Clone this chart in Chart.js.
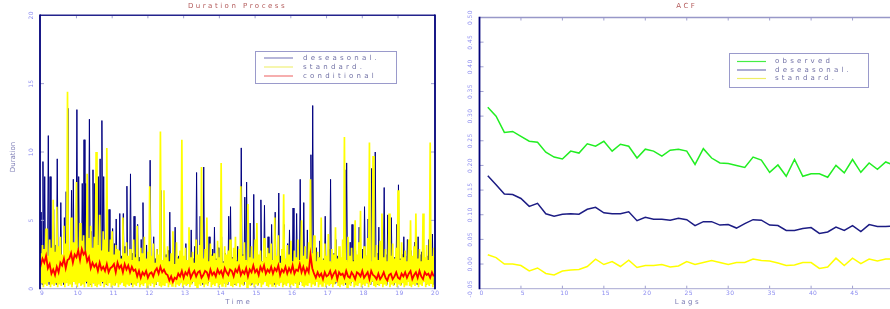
<!DOCTYPE html>
<html><head><meta charset="utf-8">
<script src="https://cdn.jsdelivr.net/npm/chart.js@4/dist/chart.umd.min.js"></script>
<style>
html,body{margin:0;padding:0;background:#fff;overflow:hidden;width:890px;height:309px;position:relative;}
#left{position:absolute;left:0;top:0;width:445px;height:309px;}
#right{position:absolute;left:440px;top:0;width:470px;height:309px;}
canvas{display:block;}
</style></head><body>
<div id="left"><canvas id="c1" width="445" height="309"></canvas></div>
<div id="right"><canvas id="c2" width="470" height="309"></canvas></div>
<script>
// ---------- Duration Process (left) ----------
const standardTimeStart = 8.95;      // time of first standard sample
const deseasonalTimeStart = 8.9625;  // time of first deseasonal sample
const fineStep = 0.025;              // sampling step of standard / deseasonal
const conditionalTimeStart = 8.95;
const conditionalStep = 0.05;
const timeTicks = [9, 10, 11, 12, 13, 14, 15, 16, 17, 18, 19, 20];
const timeTickLabels = ['9', '10', '11', '12', '13', '14', '15', '16', '17', '18', '19', '20'];
const durationTicks = [0, 5, 10, 15, 20];
const durationTickLabels = ['0', '5', '10', '15', '20'];

const durationDeseasonal = [
  2.4,0.5, 5.6,0.3, 9.3,0.8, 8.2,0.4, 3.0,0.6, 11.2,0.3, 8.2,0.7, 2.6,0.4, 5.8,0.5, 3.2,0.3,
  9.5,0.6, 3.0,0.4, 6.3,0.8, 2.4,0.3, 5.2,0.5, 7.1,0.7, 13.2,0.4, 2.5,0.6, 7.2,0.3, 8.0,0.5,
  2.8,0.7, 13.1,0.4, 8.2,0.6, 2.6,0.3, 7.7,0.5, 10.9,0.8, 7.7,0.4, 3.1,0.6, 12.4,0.3, 4.2,0.5,
  8.7,0.4, 7.7,0.7, 2.2,0.3, 8.2,0.5, 9.5,0.6, 12.3,0.4, 8.2,0.8, 3.0,0.3, 5.2,0.5, 5.8,0.6,
  2.9,0.4, 4.4,0.6, 3.3,0.3, 5.1,0.5, 2.7,0.7, 5.5,0.4, 2.4,0.6, 5.5,0.3, 3.1,0.5, 7.5,0.4,
  2.2,0.6, 8.4,0.3, 2.6,0.5, 5.3,0.7, 2.5,0.4, 4.7,0.6, 2.3,0.3, 3.6,0.5, 6.3,0.4, 2.1,0.6,
  3.2,0.3, 2.4,0.5, 9.4,0.7, 2.0,0.4, 3.8,0.6, 2.2,0.3, 2.9,0.5, 1.7,0.4, 7.2,0.6, 2.0,0.3,
  3.4,0.5, 2.5,0.7, 2.8,0.4, 5.6,0.6, 2.1,0.3, 3.0,0.5, 4.5,0.4, 2.3,0.6, 2.4,0.3, 1.6,0.5,
  2.8,0.4, 2.0,0.6, 3.3,0.3, 1.8,0.5, 2.5,0.7, 4.3,0.4, 2.2,0.6, 3.1,0.3, 8.5,0.5, 2.4,0.4,
  5.3,0.6, 1.9,0.3, 8.9,0.5, 2.1,0.7, 2.7,0.4, 3.8,0.6, 2.5,0.3, 2.9,0.5, 4.5,0.4, 2.2,0.6,
  3.0,0.3, 1.6,0.5, 3.8,0.7, 2.0,0.4, 2.6,0.6, 1.7,0.3, 5.3,0.5, 6.0,0.4, 2.3,0.6, 2.8,0.3,
  2.1,0.5, 3.1,0.7, 2.4,0.4, 10.3,0.6, 2.5,0.3, 6.7,0.5, 7.8,0.4, 2.2,0.6, 4.8,0.3, 2.1,0.5,
  6.9,0.4, 2.4,0.6, 3.2,0.3, 1.8,0.5, 6.5,0.7, 2.0,0.4, 6.1,0.6, 2.3,0.3, 3.8,0.5, 2.3,0.4,
  4.7,0.6, 1.6,0.3, 5.6,0.5, 2.1,0.7, 7.0,0.4, 2.4,0.6, 2.5,0.3, 4.7,0.5, 2.0,0.4, 3.3,0.6,
  4.3,0.3, 2.2,0.5, 5.9,0.7, 1.6,0.4, 5.5,0.6, 2.1,0.3, 8.0,0.5, 2.2,0.4, 6.3,0.6, 2.4,0.3,
  4.3,0.5, 2.0,0.7, 9.8,0.4, 13.4,0.6, 1.8,0.3, 3.0,0.5, 2.3,0.4, 3.5,0.6, 2.1,0.3, 2.2,0.5,
  5.3,0.4, 1.7,0.6, 2.9,0.3, 8.0,0.5, 2.1,0.7, 2.6,0.4, 3.6,0.6, 2.4,0.3, 3.0,0.5, 2.2,0.4,
  2.7,0.6, 8.7,0.3, 9.2,0.5, 2.3,0.7, 3.4,0.4, 4.7,0.6, 2.1,0.3, 2.8,0.5, 1.6,0.4, 4.5,0.6,
  2.0,0.3, 2.9,0.5, 6.0,0.7, 2.4,0.4, 5.1,0.6, 2.2,0.3, 8.8,0.5, 2.2,0.4, 10.0,0.6, 2.6,0.3,
  4.5,0.5, 2.1,0.7, 3.2,0.4, 7.4,0.6, 2.5,0.3, 5.4,0.5, 2.0,0.4, 5.2,0.6, 2.0,0.3, 2.3,0.5,
  4.7,0.4, 7.6,0.6, 2.2,0.3, 2.5,0.5, 3.8,0.7, 2.4,0.4, 3.6,0.6, 2.1,0.3, 2.8,0.5, 1.6,0.4,
  3.4,0.6, 2.0,0.3, 3.8,0.5, 2.5,0.7, 2.7,0.4, 3.1,0.6, 2.2,0.3, 2.4,0.5, 3.6,0.4, 2.1,0.6,
  4.0,0.3, 2.3
];

const durationStandard = [
  10.8,0.2, 2.6,0.4, 3.2,0.1, 2.9,0.3, 4.4,0.2, 2.4,0.5, 3.6,0.1, 3.0,0.3, 6.5,0.2, 2.7,0.4,
  6.0,0.1, 3.1,0.3, 3.8,0.2, 2.5,0.5, 4.6,0.1, 3.3,0.4, 14.4,0.2, 2.8,0.3, 5.2,0.1, 3.4,0.5,
  3.4,0.3, 7.8,0.1, 2.9,0.4, 4.8,0.2, 3.5,0.3, 3.9,0.1, 2.6,0.5, 8.4,0.2, 3.7,0.3, 4.6,0.1,
  3.0,0.4, 3.8,0.2, 10.0,0.1, 3.2,0.3, 5.4,0.2, 2.8,0.5, 4.2,0.1, 3.6,0.3, 10.3,0.2, 2.7,0.4,
  3.6,0.1, 4.2,0.3, 2.5,0.2, 3.2,0.4, 2.9,0.1, 2.8,0.3, 2.2,0.5, 5.2,0.2, 2.6,0.1, 3.4,0.3,
  2.4,0.2, 2.9,0.4, 2.1,0.1, 3.6,0.3, 2.3,0.2, 4.6,0.5, 2.0,0.1, 3.0,0.3, 2.6,0.2, 3.8,0.4,
  2.2,0.1, 2.7,0.3, 7.5,0.2, 2.4,0.4, 3.3,0.1, 1.9,0.3, 2.9,0.5, 2.5,0.2, 11.5,0.1, 2.1,0.3,
  7.2,0.2, 2.3,0.4, 3.1,0.1, 2.0,0.3, 2.6,0.2, 4.2,0.5, 1.8,0.1, 3.4,0.3, 2.2,0.2, 2.8,0.4,
  10.9,0.1, 2.4,0.3, 3.0,0.2, 2.1,0.4, 4.5,0.1, 2.3,0.3, 2.7,0.5, 1.9,0.2, 3.6,0.1, 2.5,0.3,
  3.2,0.2, 8.9,0.4, 2.2,0.1, 2.9,0.3, 5.2,0.2, 2.0,0.5, 3.3,0.1, 2.4,0.3, 2.6,0.2, 2.1,0.4,
  3.5,0.1, 2.3,0.3, 9.2,0.2, 1.9,0.4, 3.1,0.1, 2.5,0.3, 2.8,0.5, 3.6,0.2, 2.2,0.1, 3.0,0.3,
  3.8,0.2, 2.0,0.4, 2.9,0.1, 7.5,0.3, 2.4,0.2, 3.4,0.5, 2.1,0.1, 6.2,0.3, 2.3,0.2, 3.1,0.4,
  2.2,0.1, 3.6,0.3, 4.8,0.2, 2.5,0.4, 2.8,0.1, 2.0,0.3, 3.7,0.5, 2.3,0.2, 3.0,0.1, 2.6,0.3,
  3.3,0.2, 2.1,0.4, 5.2,0.1, 2.4,0.3, 3.9,0.2, 1.9,0.5, 2.9,0.1, 6.9,0.3, 2.2,0.2, 3.2,0.4,
  2.5,0.1, 3.5,0.3, 2.0,0.2, 2.8,0.4, 2.3,0.1, 3.6,0.3, 2.1,0.5, 5.0,0.2, 2.4,0.1, 3.1,0.3,
  2.2,0.2, 3.4,0.4, 8.0,0.1, 2.6,0.3, 3.9,0.2, 2.0,0.5, 2.7,0.1, 2.3,0.3, 5.2,0.2, 2.1,0.4,
  3.3,0.1, 2.4,0.3, 4.0,0.2, 2.0,0.4, 2.9,0.1, 2.5,0.3, 4.5,0.5, 2.2,0.2, 3.1,0.1, 2.3,0.3,
  3.6,0.2, 11.1,0.4, 2.1,0.1, 3.8,0.3, 2.4,0.2, 3.0,0.5, 2.0,0.1, 5.0,0.3, 2.5,0.2, 3.4,0.4,
  5.7,0.1, 2.2,0.3, 3.1,0.2, 2.4,0.4, 3.7,0.1, 10.7,0.3, 2.0,0.5, 9.7,0.2, 2.3,0.1, 3.2,0.3,
  2.1,0.2, 3.5,0.4, 5.5,0.1, 2.3,0.3, 2.9,0.2, 2.0,0.5, 5.5,0.1, 2.4,0.3, 3.3,0.2, 2.2,0.4,
  3.0,0.1, 7.2,0.3, 2.1,0.2, 3.4,0.4, 2.3,0.1, 2.8,0.3, 2.0,0.5, 3.6,0.2, 5.0,0.1, 2.4,0.3,
  3.1,0.2, 5.5,0.4, 2.2,0.1, 2.9,0.3, 2.0,0.2, 5.5,0.5, 2.3,0.1, 3.2,0.3, 2.1,0.2, 10.7,0.4,
  2.4,0.1, 3.0
];

const durationConditional = [
  2.3, 1.7, 2.2, 1.9, 2.4, 1.5, 1.8, 1.1, 1.4, 1.0,
  1.6, 1.2, 1.9, 1.7, 2.2, 1.5, 2.1, 2.2, 2.6, 1.9,
  2.5, 2.3, 2.8, 2.1, 2.9, 2.5, 2.7, 2.0, 2.3, 1.5,
  1.9, 1.6, 1.8, 1.3, 1.9, 1.4, 1.6, 1.3, 1.8, 1.2,
  1.5, 1.6, 1.8, 1.2, 1.9, 1.5, 1.7, 1.2, 1.8, 1.4,
  1.7, 1.2, 1.6, 1.3, 1.4, 0.9, 1.3, 0.8, 1.2, 1.0,
  1.3, 0.8, 1.1, 1.2, 0.9, 1.3, 1.5, 1.1, 1.6, 1.2,
  1.4, 1.1, 1.0, 0.6, 0.9, 0.5, 0.8, 0.7, 1.1, 0.9,
  1.3, 0.8, 1.2, 1.0, 1.4, 0.8, 1.1, 1.3, 0.9, 1.2,
  1.3, 0.8, 1.0, 1.3, 1.2, 0.8, 1.4, 1.0, 1.2, 0.9,
  1.4, 1.1, 1.3, 0.9, 1.5, 1.2, 1.0, 1.4, 1.3, 0.9,
  1.4, 1.2, 1.6, 1.0, 1.3, 1.1, 1.5, 0.9, 1.4, 1.2,
  1.7, 1.2, 1.4, 1.0, 1.6, 1.3, 1.7, 1.1, 1.4, 1.2,
  1.6, 1.1, 1.5, 1.3, 1.7, 1.0, 1.4, 1.2, 1.6, 1.1,
  1.5, 1.2, 1.7, 1.1, 1.4, 1.3, 1.8, 1.2, 1.6, 1.1,
  1.5, 1.2, 2.5, 1.5, 1.1, 0.8, 1.2, 0.9, 1.1, 0.7,
  1.2, 0.9, 1.0, 1.3, 0.8, 1.1, 1.3, 0.7, 1.2, 1.0,
  1.1, 0.8, 1.3, 0.9, 0.8, 1.2, 1.0, 0.7, 1.2, 1.1,
  0.9, 1.3, 0.8, 1.0, 1.2, 0.7, 1.3, 1.0, 0.9, 0.7,
  1.1, 0.7, 0.9, 1.2, 0.8, 0.6, 1.0, 1.1, 0.7, 0.9,
  1.2, 0.8, 0.7, 1.1, 0.9, 1.2, 0.8, 1.1, 1.3, 0.7,
  1.0, 1.2, 0.8, 1.3, 0.9, 0.7, 1.2, 1.0, 1.1, 0.8,
  1.2, 0.9
];

// ---------- ACF (right) ----------
const acfLags = [1,2,3,4,5,6,7,8,9,10,11,12,13,14,15,16,17,18,19,20,21,22,23,24,25,
                 26,27,28,29,30,31,32,33,34,35,36,37,38,39,40,41,42,43,44,45,46,47,48,49,50];
const lagTicks = [0, 5, 10, 15, 20, 25, 30, 35, 40, 45, 50];
const lagTickLabels = ['0', '5', '10', '15', '20', '25', '30', '35', '40', '45', '50'];
const acfTicks = [-0.05, 0, 0.05, 0.10, 0.15, 0.20, 0.25, 0.30, 0.35, 0.40, 0.45, 0.50];
const acfTickLabels = ['-0.05', '0.00', '0.05', '0.10', '0.15', '0.20', '0.25', '0.30', '0.35', '0.40', '0.45', '0.50'];

const acfObserved = [0.318,0.300,0.267,0.269,0.259,0.249,0.247,0.227,0.217,0.213,
  0.229,0.225,0.244,0.239,0.249,0.229,0.243,0.239,0.215,0.233,
  0.229,0.219,0.231,0.233,0.229,0.202,0.234,0.215,0.205,0.204,
  0.200,0.196,0.217,0.211,0.186,0.201,0.178,0.212,0.178,0.183,
  0.183,0.176,0.200,0.185,0.212,0.186,0.205,0.192,0.207,0.200];
const acfDeseasonal = [0.179,0.161,0.142,0.141,0.133,0.117,0.123,0.102,0.097,0.101,
  0.102,0.101,0.111,0.115,0.104,0.102,0.102,0.106,0.088,0.095,
  0.091,0.091,0.089,0.093,0.090,0.078,0.086,0.086,0.079,0.080,
  0.073,0.082,0.090,0.089,0.079,0.078,0.068,0.068,0.072,0.074,
  0.062,0.065,0.075,0.068,0.078,0.066,0.080,0.076,0.076,0.077];
const acfStandard = [0.019,0.013,0.000,0.000,-0.003,-0.014,-0.008,-0.019,-0.022,-0.014,
  -0.012,-0.011,-0.005,0.010,-0.001,0.005,-0.005,0.008,-0.007,-0.003,
  -0.003,-0.001,-0.006,-0.004,0.005,-0.001,0.003,0.007,0.003,-0.001,
  0.003,0.003,0.010,0.007,0.006,0.002,-0.003,-0.002,0.003,0.003,
  -0.009,-0.006,0.012,-0.003,0.012,0.001,0.010,0.006,0.010,0.010];

// ---------- helpers ----------
const series = (start, step, vals) => vals.map((v, i) => ({ x: +(start + i * step).toFixed(4), y: v }));
const pairs = (xs, ys) => ys.map((v, i) => ({ x: xs[i], y: v }));
const setTicks = (vals) => (s) => { s.ticks = vals.map(v => ({ value: v })); };

const FONT = '"DejaVu Sans", "Liberation Sans", sans-serif';

const framePlugin = {
  id: 'frame',
  beforeDraw(chart, args, o) { chart.ctx.letterSpacing = o.titleSpacing || '0px'; },
  afterDatasetsDraw(chart, args, o) {
    const ctx = chart.ctx, a = chart.chartArea, xs = chart.scales.x, ys = chart.scales.y;
    const seg = (x1, y1, x2, y2, c, w) => {
      ctx.beginPath(); ctx.strokeStyle = c; ctx.lineWidth = w;
      ctx.moveTo(x1, y1); ctx.lineTo(x2, y2); ctx.stroke();
    };
    ctx.save();
    ctx.lineCap = 'butt';
    xs.ticks.forEach(t => {
      const p = xs.getPixelForValue(t.value);
      if (p < a.left + 2 || p > a.right - 2) return;
      seg(p, a.top, p, a.top + 3, o.tickColor, 1);
      seg(p, a.bottom, p, a.bottom - 3, o.tickColor, 1);
    });
    ys.ticks.forEach(t => {
      const p = ys.getPixelForValue(t.value);
      if (p < a.top + 2 || p > a.bottom - 2) return;
      seg(a.left, p, a.left + 4, p, o.tickColor, 1);
      seg(a.right, p, a.right - 4, p, o.tickColor, 1);
    });
    seg(a.left, a.top, a.right, a.top, o.topColor, o.topWidth);
    seg(a.left, a.bottom, a.right, a.bottom, o.bottomColor, 1);
    seg(a.left, a.top - 0.7, a.left, a.bottom + 0.5, o.sideColor, 1.8);
    seg(a.right, a.top - 0.7, a.right, a.bottom + 0.5, o.sideColor, 1.8);
    ctx.font = '6px ' + FONT;
    ctx.fillStyle = o.tickLabelColor;
    ctx.textAlign = 'center';
    ctx.textBaseline = 'middle';
    ctx.letterSpacing = '0.4px';
    xs.ticks.forEach(t => ctx.fillText(t.label, xs.getPixelForValue(t.value) + o.xLabelShift, a.bottom + 4.8));
    ys.ticks.forEach(t => {
      ctx.save();
      ctx.translate(o.yLabelX, ys.getPixelForValue(t.value));
      ctx.rotate(-Math.PI / 2);
      ctx.fillText(t.label, 0, 0);
      ctx.restore();
    });
    ctx.font = '7px ' + FONT;
    ctx.fillStyle = o.axisTitleColor;
    ctx.letterSpacing = '2.5px';
    ctx.fillText(o.xTitle, (a.left + a.right) / 2 + 1.2, o.xTitleY);
    if (o.yTitle) {
      ctx.letterSpacing = '0px';
      ctx.save();
      ctx.translate(o.yTitleX, o.yTitleY);
      ctx.rotate(-Math.PI / 2);
      ctx.fillText(o.yTitle, 0, 0);
      ctx.restore();
    }
    const L = o.legend;
    ctx.fillStyle = '#ffffff';
    ctx.fillRect(L.x, L.y, L.w, L.h);
    ctx.strokeStyle = L.border; ctx.lineWidth = 1;
    ctx.strokeRect(L.x + 0.5, L.y + 0.5, L.w, L.h);
    ctx.font = '7px ' + FONT;
    ctx.textAlign = 'left';
    ctx.letterSpacing = '3.2px';
    chart.data.datasets.forEach((d, i) => {
      const y = L.rows[i];
      seg(L.x1, y + 0.5, L.x2, y + 0.5, d.legendColor, 1.2);
      ctx.fillStyle = L.textColor;
      ctx.fillText(d.label, L.textX, y + 0.5);
    });
    ctx.restore();
  }
};

const common = {
  responsive: false, animation: false, devicePixelRatio: 1, events: [],
  elements: { point: { radius: 0 }, line: { tension: 0 } }
};

new Chart(document.getElementById('c1'), {
  type: 'line',
  data: { datasets: [
    { label: 'deseasonal.', data: series(deseasonalTimeStart, fineStep, durationDeseasonal), borderColor: '#000080', borderWidth: 1, order: 2, legendColor: '#8585c2' },
    { label: 'standard.', data: series(standardTimeStart, fineStep, durationStandard), borderColor: '#ffff00', borderWidth: 1.7, order: 1, legendColor: '#f0f078' },
    { label: 'conditional', data: series(conditionalTimeStart, conditionalStep, durationConditional), borderColor: '#ff0000', borderWidth: 1.8, order: 0, legendColor: '#f07878' }
  ]},
  options: Object.assign({}, common, {
    layout: { padding: { left: 40, right: 10, top: 0, bottom: 20.3 } },
    scales: {
      x: { type: 'linear', display: false, min: 8.98, max: 20.035, afterBuildTicks: setTicks(timeTicks),
           ticks: { autoSkip: false, callback: (v, i) => timeTickLabels[i] } },
      y: { type: 'linear', display: false, min: 0, max: 20, afterBuildTicks: setTicks(durationTicks),
           ticks: { autoSkip: false, callback: (v, i) => durationTickLabels[i] } }
    },
    plugins: {
      legend: { display: false }, tooltip: { enabled: false },
      title: { display: true, text: 'Duration Process', color: '#b35a5a',
               font: { family: FONT, size: 7, weight: 'normal' }, padding: { top: 1.8, bottom: 5.1 } },
      frame: {
        titleSpacing: '2.5px', tickColor: '#a0a0d0', topColor: '#23238c', topWidth: 1.4,
        bottomColor: '#a8a8d2', sideColor: '#00007a', tickLabelColor: '#8c8cf0', xLabelShift: 1.5,
        yLabelX: 31.8, axisTitleColor: '#7d7db5', xTitle: 'Time', xTitleY: 301.7,
        yTitle: 'Duration', yTitleX: 13, yTitleY: 157,
        legend: { x: 255, y: 51, w: 141, h: 32, rows: [57.5, 66.5, 75.5], x1: 264, x2: 293, textX: 303,
                  border: '#9a9acb', textColor: '#7272a6' }
      }
    }
  }),
  plugins: [framePlugin]
});

new Chart(document.getElementById('c2'), {
  type: 'line',
  data: { datasets: [
    { label: 'observed', data: pairs(acfLags, acfObserved), borderColor: '#22ee22', borderWidth: 1.5, legendColor: '#44ee44' },
    { label: 'deseasonal.', data: pairs(acfLags, acfDeseasonal), borderColor: '#1c1c84', borderWidth: 1.5, legendColor: '#7575b8' },
    { label: 'standard.', data: pairs(acfLags, acfStandard), borderColor: '#ffff00', borderWidth: 1.5, legendColor: '#eeee66' }
  ]},
  options: Object.assign({}, common, {
    layout: { padding: { left: 39.5, right: 16, top: 0, bottom: 20.3 } },
    scales: {
      x: { type: 'linear', display: false, min: 0, max: 50, afterBuildTicks: setTicks(lagTicks),
           ticks: { autoSkip: false, callback: (v, i) => lagTickLabels[i] } },
      y: { type: 'linear', display: false, min: -0.05, max: 0.5, afterBuildTicks: setTicks(acfTicks),
           ticks: { autoSkip: false, callback: (v, i) => acfTickLabels[i] } }
    },
    plugins: {
      legend: { display: false }, tooltip: { enabled: false },
      title: { display: true, text: 'ACF', color: '#b35a5a',
               font: { family: FONT, size: 7, weight: 'normal' }, padding: { top: 1.8, bottom: 7.3 } },
      frame: {
        titleSpacing: '2.5px', tickColor: '#a0a0d0', topColor: '#9898c8', topWidth: 1.4,
        bottomColor: '#a8a8d2', sideColor: '#00007a', tickLabelColor: '#8c8cf0', xLabelShift: 2,
        yLabelX: 30.3, axisTitleColor: '#7d7db5', xTitle: 'Lags', xTitleY: 301.7,
        yTitle: null,
        legend: { x: 289, y: 53, w: 139, h: 34, rows: [61, 69.5, 78], x1: 297, x2: 326, textX: 335,
                  border: '#9a9acb', textColor: '#7272a6' }
      }
    }
  }),
  plugins: [framePlugin]
});
</script>
</body></html>
